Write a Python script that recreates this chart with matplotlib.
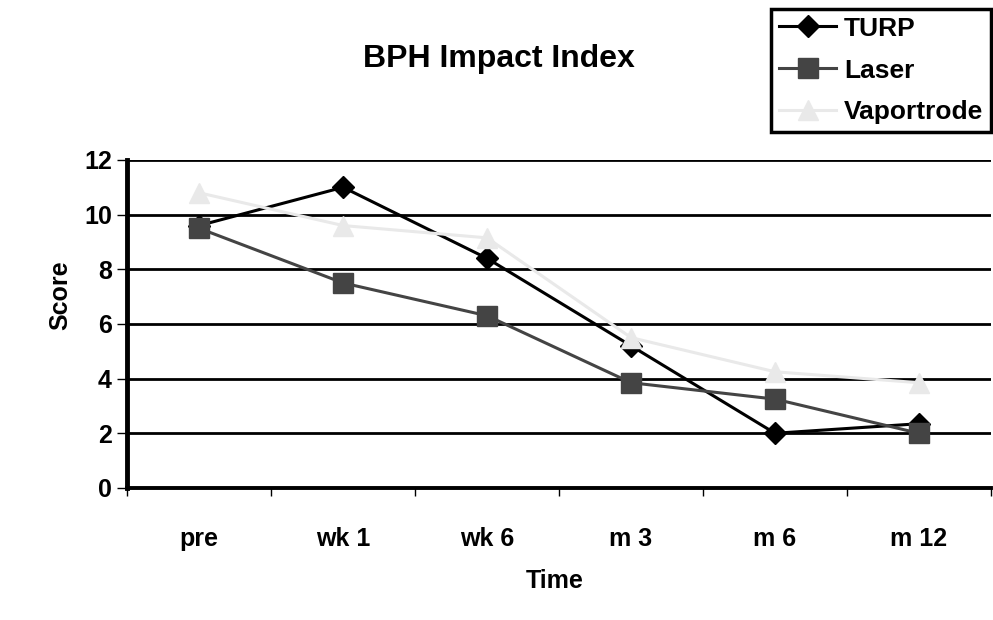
import matplotlib
matplotlib.use("Agg")
from matplotlib import pyplot as plt
from matplotlib.lines import Line2D

plt.rcParams["font.family"] = ["Liberation Sans", "DejaVu Sans"]
plt.rcParams["font.weight"] = "bold"

# data
time_points = ["pre", "wk 1", "wk 6", "m 3", "m 6", "m 12"]
turp = [9.6, 11.0, 8.4, 5.2, 2.0, 2.35]
laser = [9.5, 7.5, 6.3, 3.85, 3.25, 2.0]
vaportrode = [10.8, 9.6, 9.15, 5.5, 4.25, 3.85]
y_ticks = [0, 2, 4, 6, 8, 10, 12]

fig = plt.figure(figsize=(9.93, 6.2), dpi=100)
ax = fig.add_axes([0.128, 0.213, 0.870, 0.529])

x = list(range(len(time_points)))

# series order as in the original: later series sit on top
ax.plot(x, turp, color="#000000", lw=2.2, marker="D", markersize=11.5,
        label="TURP", zorder=3)
ax.plot(x, laser, color="#444444", lw=2.2, marker="s", markersize=14,
        label="Laser", zorder=4)
ax.plot(x, vaportrode, color="#e9e9e9", lw=2.2, marker="^", markersize=15,
        label="Vaportrode", zorder=5)

# FORMATTING
ax.set_xlim(-0.5, len(time_points) - 0.5)
ax.set_ylim(0, 12)
ax.set_xticks(x)
ax.set_xticklabels(time_points, fontsize=18, fontweight="bold")
ax.set_xticks([i - 0.5 for i in range(len(time_points) + 1)], minor=True)
ax.tick_params(axis="x", which="major", length=0, pad=28)
ax.tick_params(axis="x", which="minor", length=6, width=1, direction="out")
ax.set_yticks(y_ticks)
ax.set_yticklabels([str(v) for v in y_ticks], fontsize=18, fontweight="bold")
ax.tick_params(axis="y", length=7, width=1, direction="out", pad=4)

for v in y_ticks[1:]:
    ax.axhline(v, color="black", lw=2.0, zorder=1)

ax.spines["right"].set_visible(False)
ax.spines["top"].set_visible(False)
ax.spines["left"].set_linewidth(3.5)
ax.spines["bottom"].set_linewidth(2.8)

fig.text(0.5025, 0.905, "BPH Impact Index", ha="center", va="center",
         fontsize=23, fontweight="bold")
fig.text(0.061, 0.524, "Score", ha="center", va="center", rotation=90,
         fontsize=18, fontweight="bold")
fig.text(0.559, 0.063, "Time", ha="center", va="center",
         fontsize=18, fontweight="bold")

handles = [
    Line2D([], [], color="#000000", lw=2.2, marker="D", markersize=11.5),
    Line2D([], [], color="#444444", lw=2.2, marker="s", markersize=14),
    Line2D([], [], color="#e9e9e9", lw=2.2, marker="^", markersize=15),
]
leg = fig.legend(handles, ["TURP", "Laser", "Vaportrode"],
                 loc="upper right", bbox_to_anchor=(0.998, 0.986),
                 prop={"size": 19, "weight": "bold"}, fancybox=False,
                 framealpha=1, edgecolor="black", borderpad=0.3,
                 handlelength=2.15, handletextpad=0.3, labelspacing=0.68,
                 borderaxespad=0)
leg.get_frame().set_linewidth(2.5)

fig.savefig("out.png", dpi=100)
